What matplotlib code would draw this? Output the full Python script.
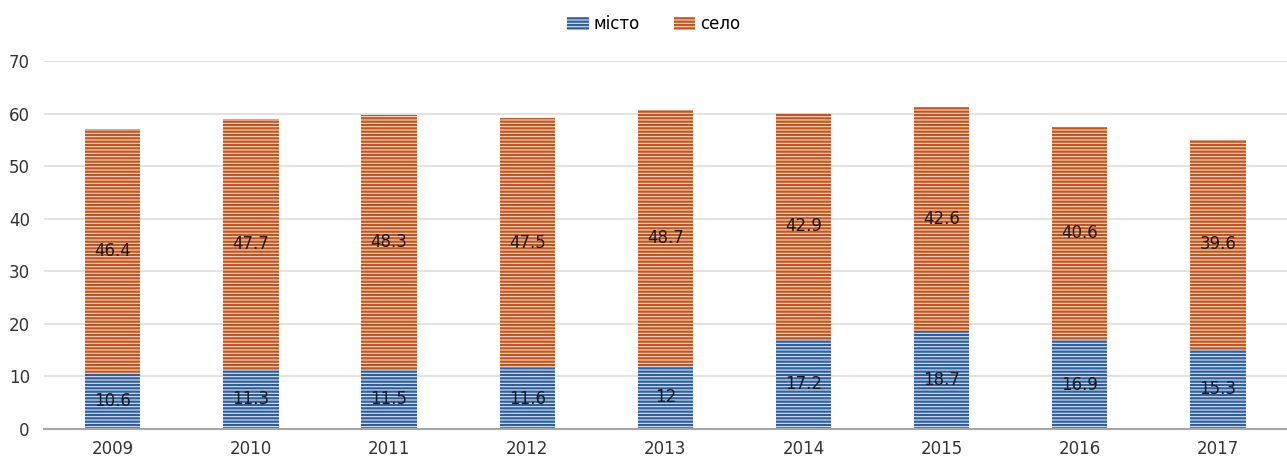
import matplotlib.pyplot as plt
import numpy as np

# Дані
years = ["2009", "2010", "2011", "2012", "2013", "2014", "2015", "2016", "2017"]
misto = [10.6, 11.3, 11.5, 11.6, 12, 17.2, 18.7, 16.9, 15.3]
selo = [46.4, 47.7, 48.3, 47.5, 48.7, 42.9, 42.6, 40.6, 39.6]

plt.rcParams['hatch.linewidth'] = 1.6

fig = plt.figure(figsize=(12.87, 4.61), dpi=100)
ax = fig.add_axes([0.034, 0.0694, 0.966, 0.7983])

x = np.arange(len(years))
w = 0.40
b1 = ax.bar(x, misto, w, facecolor='#DCE6F2', edgecolor='#2E5F9E',
            hatch='-----', linewidth=0, label='місто', zorder=2)
b2 = ax.bar(x, selo, w, bottom=misto, facecolor='#F6DCCB', edgecolor='#C4541C',
            hatch='-----', linewidth=0, label='село', zorder=2)

for i in range(len(years)):
    ax.text(x[i], misto[i] / 2, f"{misto[i]:g}", ha='center', va='center',
            fontsize=12, color='#1a1a1a', zorder=3)
    ax.text(x[i], misto[i] + selo[i] / 2, f"{selo[i]:g}", ha='center', va='center',
            fontsize=12, color='#1a1a1a', zorder=3)

ax.set_xlim(-0.5, len(years) - 0.5)
ax.set_ylim(0, 70)
ax.set_yticks(range(0, 71, 10))
ax.set_xticks(x)
ax.set_xticklabels(years)
ax.tick_params(length=0, labelsize=12, colors='#333333')
ax.tick_params(axis='x', pad=8)
ax.tick_params(axis='y', pad=10)
ax.grid(axis='y', color='#DDDDDD', linewidth=1.2, zorder=0)
for s in ['top', 'right', 'left']:
    ax.spines[s].set_visible(False)
ax.spines['bottom'].set_color('#A6A6A6')
ax.spines['bottom'].set_linewidth(1.5)

fig.legend(handles=[b1, b2], loc='upper center', bbox_to_anchor=(0.508, 1.0),
           ncol=2, frameon=False, fontsize=12, handlelength=1.3,
           handleheight=0.8, columnspacing=2.0, handletextpad=0.3)

fig.savefig('out.png', dpi=100)
